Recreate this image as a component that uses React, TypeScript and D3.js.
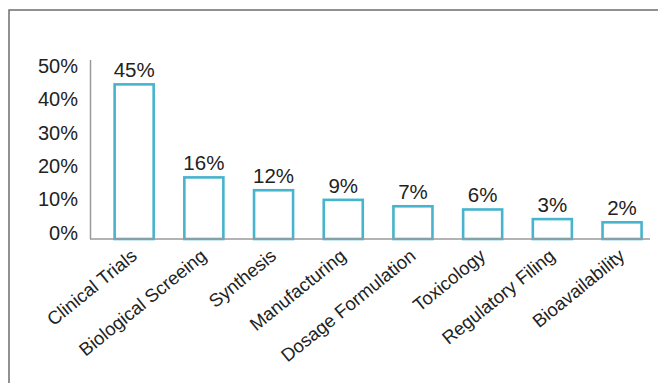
import React from "react";
import * as d3 from "d3";

const categories = [
  "Clinical Trials",
  "Biological Screeing",
  "Synthesis",
  "Manufacturing",
  "Dosage Formulation",
  "Toxicology",
  "Regulatory Filing",
  "Bioavailability",
];
const values = [45, 16, 12, 9, 7, 6, 3, 2];
const yTicks = [0, 10, 20, 30, 40, 50];

const W = 658;
const H = 383;
const FONT = "'Liberation Sans', Arial, Helvetica, sans-serif";

export default function App() {
  const x = d3
    .scaleBand<string>()
    .domain(categories)
    .range([99.3, 656.9])
    .paddingInner(0.44)
    .paddingOuter(0.22);
  const y = d3.scaleLinear().domain([-3.2, 52.6]).range([239, 60]);
  const yLabel = d3.scaleLinear().domain([0, 50]).range([232.5, 66]);
  const base = y.range()[0];
  const fmt = (v: number) => `${v}%`;

  return (
    <svg
      width={W}
      height={H}
      style={{ position: "absolute", left: 0, top: 0, background: "#fff" }}
      fontFamily={FONT}
    >
      <rect x={9} y={10} width={700} height={400} fill="none" stroke="#6e6e6e" strokeWidth={1.5} />
      {/* y axis */}
      <line x1={90.5} x2={90.5} y1={60} y2={base} stroke="#9a9a9a" strokeWidth={1.5} />
      {yTicks.map((t) => (
        <text
          key={t}
          x={78}
          y={yLabel(t)}
          textAnchor="end"
          dominantBaseline="central"
          fontSize={20}
          fill="#222"
        >
          {fmt(t)}
        </text>
      ))}
      {/* bars */}
      {categories.map((c, i) => {
        const bx = x(c)!;
        const bw = x.bandwidth();
        const top = y(values[i]);
        return (
          <g key={c}>
            <rect
              x={bx}
              y={top}
              width={bw}
              height={base - top}
              fill="#fff"
              stroke="#47b4cd"
              strokeWidth={2.6}
            />
            <text
              x={bx + bw / 2}
              y={top - 7}
              textAnchor="middle"
              fontSize={20.5}
              fill="#222"
            >
              {fmt(values[i])}
            </text>
            <text
              transform={`translate(${bx + bw / 2 + 4},${258}) rotate(-39)`}
              textAnchor="end"
              fontSize={18.5}
              fill="#222"
            >
              {c}
            </text>
          </g>
        );
      })}
      {/* baseline */}
      <line x1={90} x2={650} y1={base} y2={base} stroke="#9a9a9a" strokeWidth={1.5} />
    </svg>
  );
}
